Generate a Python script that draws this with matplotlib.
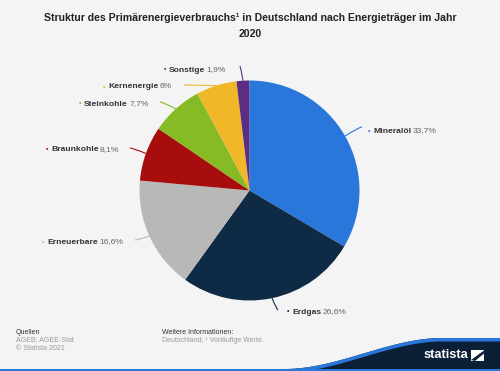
import matplotlib
matplotlib.use("Agg")
import matplotlib.pyplot as plt
import numpy as np
from matplotlib.patches import Polygon, Rectangle
from matplotlib.path import Path
from matplotlib.patches import PathPatch

categories = ["Mineralöl", "Erdgas", "Erneuerbare", "Braunkohle", "Steinkohle", "Kernenergie", "Sonstige"]
values = [33.7, 26.6, 16.6, 8.1, 7.7, 6.0, 1.9]
value_labels = ["33,7%", "26,6%", "16,6%", "8,1%", "7,7%", "6%", "1,9%"]
colors = ["#2a77db", "#0e2a45", "#b8b8b8", "#a80d0d", "#86bb25", "#f0b728", "#5b2e86"]

title = "Struktur des Primärenergieverbrauchs¹ in Deutschland nach Energieträger im Jahr\n2020"

W, H = 500, 371
BG = "#f4f4f4"
plt.rcParams['font.family'] = ['Liberation Sans', 'DejaVu Sans']

fig = plt.figure(figsize=(W / 100, H / 100), dpi=100, facecolor=BG)

def fx(px):
    return px / W

def fy(py):
    return 1 - py / H

# pie axes
cx, cy, R = 249.5, 190.5, 110
ax = fig.add_axes([fx(cx - R), fy(cy + R), 2 * R / W, 2 * R / H])
ax.set_facecolor(BG)
wedges, _ = ax.pie(values, colors=colors, startangle=90, counterclock=False,
                   radius=1, wedgeprops=dict(linewidth=0))
ax.set_xlim(-1, 1)
ax.set_ylim(-1, 1)
ax.set_aspect('auto')
ax.axis('off')

# label layout (pixel positions of text anchor: the dot)
label_pos = [(368, 131), (287, 312), (42, 242), (46, 150), (79, 104), (103, 87), (164, 70)]
line_end = [(362, 127), (278, 310), (135, 240), (130, 148), (160, 102), (184, 85), (240, 66)]

total = sum(values)
cum = 0
fig.canvas.draw()
renderer = fig.canvas.get_renderer()
for i, (cat, v) in enumerate(zip(categories, values)):
    mid = (cum + v / 2) / total * 360
    cum += v
    th = np.deg2rad(mid)
    ex, ey = cx + R * np.sin(th), cy - R * np.cos(th)
    lx, ly = line_end[i]
    verts = [(fx(ex), fy(ey)), (fx(lx + (ex - lx) * 0.15), fy(ly)), (fx(lx), fy(ly))]
    pth = Path(verts, [Path.MOVETO, Path.CURVE3, Path.CURVE3])
    fig.patches.append(PathPatch(pth, transform=fig.transFigure, fill=False,
                                 edgecolor=colors[i], linewidth=0.8))
    tx, ty = label_pos[i]
    fig.text(fx(tx), fy(ty), "•", color=colors[i], fontsize=5, va='center', ha='left')
    t = fig.text(fx(tx + 5), fy(ty), cat, fontsize=6.1, fontweight='bold', color='#333333',
                 va='center', ha='left')
    bb = t.get_window_extent(renderer)
    fig.text((bb.x1 + 1.5) / W, fy(ty), value_labels[i], fontsize=6.1, color='#666666',
             va='center', ha='left')

# title
fig.text(0.5, fy(25.5), title, fontsize=7.6, fontweight='bold', color='#222222',
         ha='center', va='center', linespacing=1.75)

# footer
fs = 5.0
fig.text(fx(16), fy(332), "Quellen", fontsize=fs, color='#333333', va='center')
fig.text(fx(16), fy(340), "AGEB; AGEE-Stat", fontsize=fs, color='#999999', va='center')
fig.text(fx(16), fy(348), "© Statista 2021", fontsize=fs, color='#999999', va='center')
fig.text(fx(162), fy(332), "Weitere Informationen:", fontsize=fs, color='#333333', va='center')
fig.text(fx(162), fy(340), "Deutschland; ¹ Vorläufige Werte.", fontsize=fs, color='#999999', va='center')

# statista wave
xs = np.linspace(285, 500, 80)
def wave(x):
    t = np.clip((x - 285) / (442 - 285), 0, 1)
    s = t * t * (3 - 2 * t)
    return 369 - s * 31
top = wave(xs)
dark = [(fx(x), fy(y)) for x, y in zip(xs, top)] + [(1, fy(371)), (fx(285), fy(371))]
fig.patches.append(Polygon(dark, closed=True, transform=fig.transFigure,
                           facecolor='#0b1f37', edgecolor='none'))
band = [(fx(x), fy(y)) for x, y in zip(xs, top)] + [(fx(x), fy(y + 3.5)) for x, y in zip(xs[::-1], top[::-1])]
fig.patches.append(Polygon(band, closed=True, transform=fig.transFigure,
                           facecolor='#2a77db', edgecolor='none'))
fig.patches.append(Rectangle((0, 0), 1, 2.5 / H, transform=fig.transFigure,
                             facecolor='#2a77db', edgecolor='none'))
fig.text(fx(468), fy(355), "statista", fontsize=9.2, fontweight='bold', color='white',
         ha='right', va='center', family=['Liberation Sans'])
fig.patches.append(Rectangle((fx(471), fy(361)), 13 / W, 11 / H, transform=fig.transFigure,
                             facecolor='white', edgecolor='none'))
fig.patches.append(Polygon([(fx(471), fy(360)), (fx(484), fy(350.5)), (fx(484), fy(353.5)), (fx(475), fy(361))],
                           closed=True, transform=fig.transFigure, facecolor='#0b1f37', edgecolor='none'))

fig.savefig("out.png", dpi=100, facecolor=BG)
